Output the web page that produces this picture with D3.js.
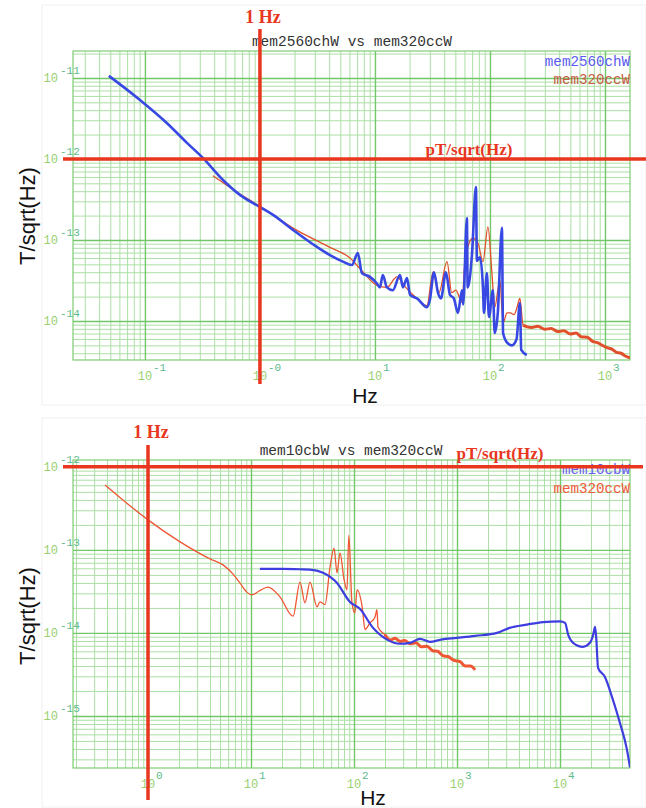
<!DOCTYPE html>
<html>
<head>
<meta charset="utf-8">
<script src="https://cdn.jsdelivr.net/npm/d3@7"></script>
<style>
    body { margin: 0; background: #fff; }
</style>
</head>
<body>
<svg id="chart" width="646" height="808"></svg>
<script>
//Top panel: [frequency Hz, amplitude T/sqrt(Hz)]
const topTitle = "mem2560chW vs mem320ccW";
const topBlueName = "mem2560chW";
const topRedName = "mem320ccW";
const topXDomain = [0.0237, 1650];
const topYDomain = [3.3e-15, 2.15e-11];
const topXExps = [-1, 0, 1, 2, 3];
const topXExpLabels = ["-1", "-0", "1", "2", "3"];
const topYExps = [-11, -12, -13, -14];
const topYExpLabels = ["-11", "-12", "-13", "-14"];

const topBlue = [
    [0.0486, 1.06e-11], [0.0905, 5.35e-12], [0.155, 2.78e-12], [0.232, 1.58e-12],
    [0.319, 1.03e-12], [0.477, 5.5e-13], [0.67, 3.6e-13], [1.0, 2.55e-13],
    [1.3, 2.04e-13], [1.94, 1.33e-13], [3.13, 8.2e-14], [4.06, 6.5e-14],
    [5.27, 5.4e-14], [6.3, 4.9e-14], [7.1, 6.9e-14], [7.7, 3.9e-14],
    [9.05, 3.5e-14], [10.4, 2.9e-14], [11.05, 2.6e-14], [11.7, 3.7e-14],
    [12.7, 2.6e-14], [14.3, 2.4e-14], [16.5, 3.7e-14], [17.5, 2.6e-14],
    [19.0, 3.4e-14], [20.2, 2.1e-14], [23.2, 1.9e-14], [28.3, 1.48e-14],
    [30.0, 1.8e-14], [32.6, 4.0e-14], [35.3, 2.24e-14], [37.5, 1.9e-14],
    [41.4, 4.0e-14], [44.9, 2.1e-14], [48.5, 1.9e-14], [52.7, 1.26e-14],
    [57.1, 2.4e-14], [58.5, 1.6e-14], [63.0, 1.86e-13], [64.0, 2.6e-14],
    [69.7, 6.5e-14], [75.5, 4.5e-13], [77.0, 5.5e-14], [81.9, 6.1e-14],
    [86.9, 2.6e-14], [88.7, 1.26e-14], [94.0, 3.9e-14], [98.0, 1.12e-14],
    [106.0, 2.4e-14], [110.0, 7.1e-15], [117.0, 1.26e-14], [127.0, 1.41e-13],
    [130.0, 7.1e-15], [141.0, 5.4e-15], [155.0, 5.0e-15], [170.0, 5.9e-15],
    [182.0, 1.66e-14], [187.0, 4.4e-15], [209.0, 3.8e-15]
];

const topRed = [
    [0.39, 6.2e-13], [0.67, 3.7e-13], [1.0, 2.6e-13], [1.94, 1.4e-13],
    [4.06, 8.1e-14], [6.07, 6.0e-14], [7.9, 4.0e-14], [10.4, 2.75e-14],
    [12.7, 2.6e-14], [15.5, 3.5e-14], [18.5, 2.6e-14], [23.2, 1.9e-14],
    [28.3, 1.55e-14], [32.0, 4.0e-14], [36.0, 2.24e-14], [42.3, 5.4e-14],
    [46.5, 2.24e-14], [50.5, 2.4e-14], [57.1, 1.7e-14], [61.0, 6.1e-14],
    [71.0, 1.05e-13], [78.7, 9.1e-14], [86.9, 5.4e-14], [96.0, 1.45e-13],
    [104.0, 3.9e-14], [110.0, 1.48e-14], [122.0, 3.2e-14], [130.0, 9.5e-15],
    [141.0, 1.26e-14], [150.0, 1.26e-14], [162.0, 1.2e-14], [172.0, 1.48e-14],
    [182.0, 1.9e-14], [194.0, 8.9e-15], [200, 8.7e-15], [230, 8.3e-15],
    [260, 8.6e-15], [300, 7.9e-15], [340, 8.1e-15], [390, 7.4e-15],
    [440, 7.6e-15], [500, 6.9e-15], [560, 7.1e-15], [620, 6.4e-15],
    [700, 6.3e-15], [780, 5.6e-15], [860, 5.4e-15], [950, 5.0e-15],
    [1040, 4.7e-15], [1150, 4.5e-15], [1260, 4.1e-15], [1380, 4.0e-15],
    [1500, 3.7e-15], [1650, 3.5e-15]
];

//Bottom panel
const bottomTitle = "mem10cbW vs mem320ccW";
const bottomBlueName = "mem10cbW";
const bottomRedName = "mem320ccW";
const bottomXDomain = [0.187, 47800];
const bottomYDomain = [2.36e-16, 1.21e-12];
const bottomXExps = [0, 1, 2, 3, 4];
const bottomXExpLabels = ["0", "1", "2", "3", "4"];
const bottomYExps = [-12, -13, -14, -15];
const bottomYExpLabels = ["-12", "-13", "-14", "-15"];

const bottomRed = [
    [0.383, 6.07e-13], [1.0, 2.3e-13], [2.05, 1.25e-13], [4.0, 7.8e-14],
    [5.35, 6.6e-14], [6.7, 5.1e-14], [7.8, 4.0e-14], [9.1, 3.1e-14],
    [10.2, 2.87e-14], [12.0, 3.2e-14], [14.6, 3.57e-14], [19.1, 2.72e-14],
    [25.6, 1.59e-14], [29.9, 4.1e-14], [33.4, 2.3e-14], [37.4, 4.1e-14],
    [43.7, 2.06e-14], [46.7, 2.36e-14], [52.3, 2.19e-14], [58.5, 6.2e-14],
    [64.0, 1.05e-13], [68.4, 5.3e-14], [73.1, 9.2e-14], [80.0, 4.4e-14],
    [85.5, 3.3e-14], [89.0, 1.5e-13], [95.6, 2.3e-14], [102.0, 1.74e-14],
    [107.0, 3.3e-14], [120.0, 2.06e-14], [128.0, 1.1e-14], [143.0, 1.32e-14],
    [160.0, 1.56e-14], [167.0, 1.9e-14], [171.0, 1.18e-14], [200, 9.5e-15],
    [225, 8.2e-15], [250, 8.6e-15], [280, 7.9e-15], [310, 8.1e-15],
    [350, 7.4e-15], [400, 7.6e-15], [450, 6.8e-15], [512, 6.9e-15],
    [580, 6.1e-15], [650, 6.0e-15], [731, 5.3e-15], [820, 5.2e-15],
    [920, 4.7e-15], [1070, 4.5e-15], [1200, 4.0e-15], [1350, 4.0e-15],
    [1496, 3.6e-15]
];

const bottomBlue = [
    [12.2, 5.9e-14], [20, 5.9e-14], [30, 5.85e-14], [37.4, 5.8e-14],
    [50, 5.3e-14], [68.4, 4.0e-14], [91, 2.37e-14], [114, 1.95e-14],
    [153, 1.15e-14], [209, 8.3e-15], [280, 7.4e-15], [350, 7.6e-15],
    [437, 8.5e-15], [547, 7.8e-15], [700, 8.3e-15], [1000, 8.7e-15],
    [1500, 9.2e-15], [2443, 1.0e-14], [3240, 1.15e-14], [4790, 1.26e-14],
    [6840, 1.35e-14], [10000, 1.38e-14], [11200, 1.32e-14], [12000, 9.5e-15],
    [13400, 7.6e-15], [16700, 6.8e-15], [19500, 7.6e-15], [21000, 9.5e-15],
    [21900, 1.18e-14], [22500, 8.5e-15], [23400, 3.8e-15], [27300, 2.95e-15],
    [32700, 1.55e-15], [38100, 8.3e-16], [44700, 3.9e-16], [47800, 2.4e-16]
];

let svg = d3.select("#chart");

function drawPanel(p)
{
    let g = svg.append("g");

    //faint outer box
    g.append("rect")
        .attr("x", p.box[0]).attr("y", p.box[1])
        .attr("width", p.box[2]).attr("height", p.box[3])
        .attr("fill", "none").attr("stroke", "#f0f0f0");

    let x = d3.scaleLog().domain(p.xDomain).range([p.left, p.right]);
    let y = d3.scaleLog().domain(p.yDomain).range([p.bottom, p.top]);
    let h = p.bottom - p.top, w = p.right - p.left;

    let isMajor = d => Math.abs(Math.log10(d) - Math.round(Math.log10(d))) < 1e-6;
    let xTicks = x.ticks(), yTicks = y.ticks();

    //minor grid
    g.append("g")
        .attr("transform", "translate(0," + p.bottom + ")")
        .call(d3.axisBottom(x).tickValues(xTicks.filter(d => !isMajor(d))).tickSize(-h).tickFormat(""))
        .call(a => a.select(".domain").remove())
        .selectAll("line").attr("stroke", "#acdfa6").attr("stroke-width", 1);
    g.append("g")
        .attr("transform", "translate(" + p.left + ",0)")
        .call(d3.axisLeft(y).tickValues(yTicks.filter(d => !isMajor(d))).tickSize(-w).tickFormat(""))
        .call(a => a.select(".domain").remove())
        .selectAll("line").attr("stroke", "#acdfa6").attr("stroke-width", 1);

    //major grid
    g.append("g")
        .attr("transform", "translate(0," + p.bottom + ")")
        .call(d3.axisBottom(x).tickValues(xTicks.filter(isMajor)).tickSize(-h).tickFormat(""))
        .call(a => a.select(".domain").remove())
        .selectAll("line").attr("stroke", "#72c868").attr("stroke-width", 1.4);
    g.append("g")
        .attr("transform", "translate(" + p.left + ",0)")
        .call(d3.axisLeft(y).tickValues(yTicks.filter(isMajor)).tickSize(-w).tickFormat(""))
        .call(a => a.select(".domain").remove())
        .selectAll("line").attr("stroke", "#72c868").attr("stroke-width", 1.4);

    //plot frame
    g.append("rect")
        .attr("x", p.left).attr("y", p.top).attr("width", w).attr("height", h)
        .attr("fill", "none").attr("stroke", "#7fcc74").attr("stroke-width", 1.2);

    //tick labels
    let tickFont = "'Liberation Mono', 'DejaVu Sans Mono', monospace";
    g.selectAll("text.xb").data(p.xExps).join("text")
        .attr("class", "xb")
        .attr("x", d => x(Math.pow(10, d)))
        .attr("y", p.bottom + 20)
        .attr("text-anchor", "middle")
        .attr("font-family", tickFont).attr("font-size", 12)
        .attr("fill", "#98d070")
        .text("10");
    g.selectAll("text.xe").data(p.xExps).join("text")
        .attr("class", "xe")
        .attr("x", d => x(Math.pow(10, d)) + 8)
        .attr("y", p.bottom + 11)
        .attr("font-family", tickFont).attr("font-size", 11)
        .attr("fill", "#5dbb8c")
        .text((d, i) => p.xExpLabels[i]);
    g.selectAll("text.yb").data(p.yExps).join("text")
        .attr("class", "yb")
        .attr("x", p.left - 15)
        .attr("y", d => y(Math.pow(10, d)) + 4)
        .attr("text-anchor", "end")
        .attr("font-family", tickFont).attr("font-size", 12)
        .attr("fill", "#98d070")
        .text("10");
    g.selectAll("text.ye").data(p.yExps).join("text")
        .attr("class", "ye")
        .attr("x", p.left - 13)
        .attr("y", d => y(Math.pow(10, d)) - 4)
        .attr("font-family", tickFont).attr("font-size", 11)
        .attr("fill", "#5dbb8c")
        .text((d, i) => p.yExpLabels[i]);

    //series
    let clipId = "clip" + p.id;
    svg.append("clipPath").attr("id", clipId)
        .append("rect").attr("x", p.left).attr("y", p.top).attr("width", w).attr("height", h);

    let line = d3.line()
        .curve(d3.curveMonotoneX)
        .x(d => x(d[0]))
        .y(d => y(d[1]));

    let series = g.append("g").attr("clip-path", "url(#" + clipId + ")");
    series.append("path")
        .datum(p.red)
        .attr("d", line)
        .attr("fill", "none").attr("stroke", p.redColor).attr("stroke-width", 1.3)
        .attr("stroke-linejoin", "round");
    series.append("path")
        .datum(p.red.filter(d => d[0] >= 190))
        .attr("d", line)
        .attr("fill", "none").attr("stroke", p.redColor).attr("stroke-width", 3)
        .attr("stroke-linejoin", "round");
    series.append("path")
        .datum(p.blue)
        .attr("d", line)
        .attr("fill", "none").attr("stroke", p.blueColor).attr("stroke-width", p.blueWidth)
        .attr("stroke-linejoin", "round");

    //title and legend
    let monoFont = "'Liberation Mono', 'DejaVu Sans Mono', monospace";
    g.append("text")
        .attr("x", p.titleX).attr("y", p.titleY)
        .attr("text-anchor", "middle")
        .attr("font-family", monoFont).attr("font-size", 14.5)
        .attr("fill", "#333")
        .text(p.title);
    g.append("text")
        .attr("x", p.right).attr("y", p.top + p.legendDy[0])
        .attr("text-anchor", "end")
        .attr("font-family", monoFont).attr("font-size", 14.2)
        .attr("fill", p.blueLegendColor)
        .text(p.blueName);
    g.append("text")
        .attr("x", p.right).attr("y", p.top + p.legendDy[1])
        .attr("text-anchor", "end")
        .attr("font-family", monoFont).attr("font-size", 14.2)
        .attr("fill", p.redLegendColor)
        .text(p.redName);

    //axis titles
    g.append("text")
        .attr("transform", "translate(" + 35 + "," + p.yTitleY + ") rotate(-90)")
        .attr("text-anchor", "middle")
        .attr("font-family", "'Liberation Sans', Arial, sans-serif").attr("font-size", 22)
        .attr("fill", "#111")
        .text("T/sqrt(Hz)");
    g.append("text")
        .attr("x", p.xTitleX).attr("y", p.bottom + p.xTitleDy)
        .attr("text-anchor", "middle")
        .attr("font-family", "'Liberation Sans', Arial, sans-serif").attr("font-size", 21)
        .attr("fill", "#111")
        .text("Hz");

    //red reference lines: 1 Hz and 1 pT/sqrt(Hz)
    let refColor = "#e8361f";
    g.append("line")
        .attr("x1", x(1)).attr("x2", x(1))
        .attr("y1", p.oneHzSpan[0]).attr("y2", p.oneHzSpan[1])
        .attr("stroke", refColor).attr("stroke-width", 3.5);
    g.append("line")
        .attr("x1", p.pTSpan[0]).attr("x2", p.pTSpan[1])
        .attr("y1", y(1e-12)).attr("y2", y(1e-12))
        .attr("stroke", refColor).attr("stroke-width", 3.5);

    let serif = "'Liberation Serif', 'Times New Roman', serif";
    g.append("text")
        .attr("x", x(1) + 3).attr("y", p.oneHzY)
        .attr("text-anchor", "middle")
        .attr("font-family", serif).attr("font-weight", "bold").attr("font-size", 18)
        .attr("fill", refColor)
        .text("1 Hz");
    g.append("text")
        .attr("x", p.pTX).attr("y", y(1e-12) + p.pTDy)
        .attr("text-anchor", "middle")
        .attr("font-family", serif).attr("font-weight", "bold").attr("font-size", 17)
        .attr("fill", refColor)
        .text("pT/sqrt(Hz)");
}

drawPanel({
    id: "top",
    box: [42, 5, 604, 400],
    left: 73, right: 630, top: 51, bottom: 360,
    xDomain: topXDomain, yDomain: topYDomain,
    xExps: topXExps, xExpLabels: topXExpLabels,
    yExps: topYExps, yExpLabels: topYExpLabels,
    blue: topBlue, red: topRed,
    blueColor: "#3848e2", blueWidth: 2.6, redColor: "#e0502c",
    title: topTitle, titleX: 352, titleY: 46,
    blueName: topBlueName, redName: topRedName,
    blueLegendColor: "#5a5af0", redLegendColor: "#c65a42",
    legendDy: [15, 33],
    yTitleY: 216, xTitleX: 365, xTitleDy: 43,
    oneHzSpan: [29, 384], pTSpan: [63, 646],
    oneHzY: 23, pTX: 469, pTDy: -4
});

drawPanel({
    id: "bottom",
    box: [42, 418, 604, 389],
    left: 73, right: 630, top: 460, bottom: 768,
    xDomain: bottomXDomain, yDomain: bottomYDomain,
    xExps: bottomXExps, xExpLabels: bottomXExpLabels,
    yExps: bottomYExps, yExpLabels: bottomYExpLabels,
    blue: bottomBlue, red: bottomRed,
    blueColor: "#3e3ee0", blueWidth: 2.2, redColor: "#ef5634",
    title: bottomTitle, titleX: 351, titleY: 455,
    blueName: bottomBlueName, redName: bottomRedName,
    blueLegendColor: "#6a5ef2", redLegendColor: "#f05a3a",
    legendDy: [14, 33],
    yTitleY: 616, xTitleX: 373, xTitleDy: 37,
    oneHzSpan: [445, 800], pTSpan: [63, 643],
    oneHzY: 438, pTX: 500, pTDy: -8
});
</script>
</body>
</html>
